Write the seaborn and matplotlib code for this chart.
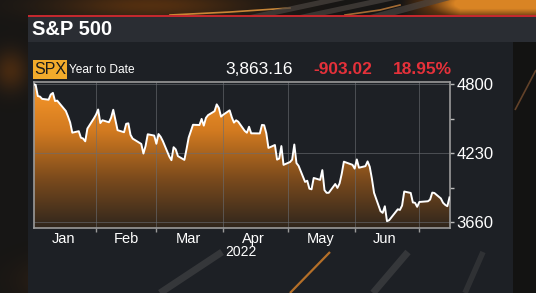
import numpy as np
import pandas as pd
import matplotlib
matplotlib.use("Agg")
import matplotlib.pyplot as plt
import matplotlib.dates as mdates
from matplotlib.colors import LinearSegmentedColormap
from matplotlib.patches import Rectangle, Polygon
import seaborn as sns

# ---------------- data ----------------
dates = ["2022-01-03","2022-01-04","2022-01-05","2022-01-06","2022-01-07","2022-01-10","2022-01-11","2022-01-12",
         "2022-01-13","2022-01-14","2022-01-18","2022-01-19","2022-01-20","2022-01-21","2022-01-24","2022-01-25",
         "2022-01-26","2022-01-27","2022-01-28","2022-01-31","2022-02-01","2022-02-02","2022-02-03","2022-02-04",
         "2022-02-07","2022-02-08","2022-02-09","2022-02-10","2022-02-11","2022-02-14","2022-02-15","2022-02-16",
         "2022-02-17","2022-02-18","2022-02-22","2022-02-23","2022-02-24","2022-02-25","2022-02-28","2022-03-01",
         "2022-03-02","2022-03-03","2022-03-04","2022-03-07","2022-03-08","2022-03-09","2022-03-10","2022-03-11",
         "2022-03-14","2022-03-15","2022-03-16","2022-03-17","2022-03-18","2022-03-21","2022-03-22","2022-03-23",
         "2022-03-24","2022-03-25","2022-03-28","2022-03-29","2022-03-30","2022-03-31","2022-04-01","2022-04-04",
         "2022-04-05","2022-04-06","2022-04-07","2022-04-08","2022-04-11","2022-04-12","2022-04-13","2022-04-14",
         "2022-04-18","2022-04-19","2022-04-20","2022-04-21","2022-04-22","2022-04-25","2022-04-26","2022-04-27",
         "2022-04-28","2022-04-29","2022-05-02","2022-05-03","2022-05-04","2022-05-05","2022-05-06","2022-05-09",
         "2022-05-10","2022-05-11","2022-05-12","2022-05-13","2022-05-16","2022-05-17","2022-05-18","2022-05-19",
         "2022-05-20","2022-05-23","2022-05-24","2022-05-25","2022-05-26","2022-05-27","2022-05-31","2022-06-01",
         "2022-06-02","2022-06-03","2022-06-06","2022-06-07","2022-06-08","2022-06-09","2022-06-10","2022-06-13",
         "2022-06-14","2022-06-15","2022-06-16","2022-06-17","2022-06-21","2022-06-22","2022-06-23","2022-06-24",
         "2022-06-27","2022-06-28","2022-06-29","2022-06-30","2022-07-01","2022-07-05","2022-07-06","2022-07-07",
         "2022-07-08","2022-07-11","2022-07-12","2022-07-13","2022-07-14","2022-07-15"]
closes = [4796.56,4793.54,4700.58,4696.05,4677.03,4670.29,4713.07,4726.35,
          4659.03,4662.85,4577.11,4532.76,4482.73,4397.94,4410.13,4356.45,
          4349.93,4326.51,4431.85,4515.55,4546.54,4589.38,4477.44,4500.53,
          4483.87,4521.54,4587.18,4504.08,4418.64,4401.67,4471.07,4475.01,
          4380.26,4348.87,4304.76,4225.50,4288.70,4384.65,4373.94,4306.26,
          4386.54,4363.49,4328.87,4201.09,4170.70,4277.88,4259.52,4204.31,
          4173.11,4262.45,4357.86,4411.67,4463.12,4461.18,4511.61,4456.24,
          4520.16,4543.06,4575.52,4631.60,4602.45,4530.41,4545.86,4582.64,
          4525.12,4481.15,4500.21,4488.28,4412.53,4397.45,4446.59,4392.59,
          4391.69,4462.21,4459.45,4393.66,4271.78,4296.12,4175.20,4183.96,
          4287.50,4131.93,4155.38,4175.48,4300.17,4146.87,4123.34,3991.24,
          4001.05,3935.18,3930.08,4023.89,4008.01,4088.85,3923.68,3900.79,
          3901.36,3973.75,3941.48,3978.73,4057.84,4158.24,4132.15,4101.23,
          4176.82,4108.54,4121.43,4160.68,4115.77,4017.82,3900.86,3749.63,
          3735.48,3789.99,3666.77,3674.84,3764.79,3759.89,3795.73,3911.74,
          3900.11,3821.55,3818.83,3785.38,3825.33,3831.39,3845.08,3902.62,
          3899.38,3854.43,3818.80,3801.78,3790.38,3863.16]

y_ticks = [3660, 4230, 4800]
month_labels = ["Jan", "Feb", "Mar", "Apr", "May", "Jun"]
year_label = "2022"
title = "S&P 500"
ticker = "SPX"
period = "Year to Date"
last_value = "3,863.16"
change = "-903.02"
change_pct = "18.95%"

df = pd.DataFrame({"date": pd.to_datetime(dates), "close": closes})

# ---------------- figure ----------------
W, H = 536, 293
fig = plt.figure(figsize=(W / 100, H / 100), dpi=100)
fig.patch.set_facecolor("#161616")

bg = fig.add_axes([0, 0, 1, 1])
bg.set_xlim(0, W)
bg.set_ylim(H, 0)
bg.axis("off")

# background glow image
yy, xx = np.mgrid[0:H, 0:W].astype(float)
glow = (np.clip((xx - 400) / 60.0, 0, 1) * np.exp(-(yy - 3) ** 2 / 250.0) * 1.1
        + np.exp(-((xx - 150) ** 2 / 9000.0 + (yy - 5) ** 2 / 200.0)) * 0.45
        + np.exp(-((xx - 10) ** 2 / 300.0 + (yy - 70) ** 2 / 400.0)) * 0.35
        + np.exp(-((xx - 90) ** 2 / 3000.0 + (yy - 280) ** 2 / 500.0)) * 0.35)
bgcmap = LinearSegmentedColormap.from_list("bgc", ["#171615", "#5a3210", "#d98424"])
bg.imshow(np.clip(glow, 0, 1), cmap=bgcmap, vmin=0, vmax=1, extent=[0, W, H, 0],
          aspect="auto", zorder=0)

# top streaks
bg.plot([170, 230, 290], [15, 12, 8], color="#f0a040", alpha=0.8, lw=1.2, zorder=1)
bg.plot([345, 380, 400], [15, 10, 5], color="#e09040", alpha=0.7, lw=1.2, zorder=1)
for xa, xb in [(250, 320), (300, 370), (370, 425)]:
    bg.add_patch(Polygon([[xa, 15], [xa + 25, 15], [xb + 25, 0], [xb, 0]], closed=True,
                         facecolor="#4a4440", alpha=0.7, edgecolor="none", zorder=1))

# main panel
bg.add_patch(Rectangle((28, 42), 485, 251, facecolor="#1d2025", edgecolor="none", zorder=2))
bg.add_patch(Rectangle((28, 16), W - 28, 26, facecolor="#2a2d33", edgecolor="none", zorder=3))
bg.add_patch(Rectangle((28, 14.5), W - 28, 2.2, facecolor="#c3282e", edgecolor="none", zorder=4))

# bottom streaks
for xa, ya, xb, yb, c, a, lw in [(160, 293, 222, 252, "#5a5a5a", 0.4, 5),
                                 (290, 293, 330, 252, "#e88a2a", 0.75, 1.6),
                                 (373, 293, 408, 252, "#5a5a5a", 0.4, 5),
                                 (465, 293, 483, 252, "#5a5a5a", 0.3, 4),
                                 (515, 110, 536, 70, "#b07040", 0.5, 1.2)]:
    bg.plot([xa, xb], [ya, yb], color=c, alpha=a, lw=lw, zorder=2.5, solid_capstyle="butt")
bg.add_patch(Rectangle((513, 42), 23, 251, facecolor="#111111", alpha=0.5, edgecolor="none", zorder=2.2))

bg.text(32.5, 29.5, title, color="white", fontsize=14.5, fontweight="bold",
        family="Liberation Sans", va="center", ha="left", zorder=5)

# SPX badge
bg.add_patch(Rectangle((33, 60), 33.5, 18.5, facecolor="#f2ab2b", edgecolor="none", zorder=5))
bg.text(49.8, 69.8, ticker, color="#1a1a1a", fontsize=11.5, family="Liberation Sans",
        va="center", ha="center", zorder=6)
bg.text(69, 70, period, color="white", fontsize=8.6, family="Liberation Sans",
        va="center", ha="left", zorder=6)
bg.text(293, 70, last_value, color="white", fontsize=12.5, family="Liberation Sans",
        va="center", ha="right", zorder=6)
bg.text(372, 70, change, color="#e5313a", fontsize=12.5, family="Liberation Sans", fontweight="bold",
        va="center", ha="right", zorder=6)
bg.text(452, 70, change_pct, color="#e5313a", fontsize=12.5, family="Liberation Sans", fontweight="bold",
        va="center", ha="right", zorder=6)

# ---------------- main chart ----------------
left, right, top, bottom = 33.5, 449.5, 82, 228
ax = fig.add_axes([left / W, 1 - bottom / H, (right - left) / W, (bottom - top) / H])
ax.set_facecolor("#1d2025")
ax.set_zorder(10)

px_per_unit = (222 - 84) / (4800 - 3660)
ymax = 4800 + (84 - top) / px_per_unit
ymin = 3660 - (bottom - 222) / px_per_unit
x0 = mdates.date2num(pd.Timestamp("2022-01-03"))
x1 = mdates.date2num(pd.Timestamp("2022-07-15"))
ax.set_xlim(x0, x1)
ax.set_ylim(ymin, ymax)

xn = mdates.date2num(df["date"])
poly = ax.fill_between(xn, df["close"], ymin, facecolor="none", edgecolor="none")
grad = np.linspace(0, 1, 256).reshape(-1, 1)
fillcmap = LinearSegmentedColormap.from_list("fillc", ["#30261d", "#7a4a1c", "#d27a20", "#fb9a2a"])
im = ax.imshow(grad, cmap=fillcmap, origin="lower", extent=[x0, x1, ymin, ymax],
               aspect="auto", zorder=1)
im.set_clip_path(poly.get_paths()[0], transform=ax.transData)

sns.lineplot(data=df, x="date", y="close", ax=ax, color="white", lw=1.4, zorder=3)

month_starts = [mdates.date2num(pd.Timestamp(f"2022-{m:02d}-01")) for m in range(2, 8)]
for m in month_starts:
    ax.axvline(m, color="#6a6d72", lw=0.6, alpha=0.7, zorder=2)
for t in y_ticks:
    ax.axhline(t, color="#6a6d72", lw=0.6, alpha=0.7, zorder=2)

ax.set_xticks(month_starts)
ax.set_xticklabels([])
ax.tick_params(axis="x", direction="out", length=3, width=1, color="#9a9a9a")
centers = [mdates.date2num(pd.Timestamp(s)) for s in
           ["2022-01-17", "2022-02-15", "2022-03-16", "2022-04-15", "2022-05-16", "2022-06-15"]]
ax.set_xticks(centers, minor=True)
ax.set_xticklabels(month_labels, minor=True)
ax.tick_params(axis="x", which="minor", length=0, pad=3, labelsize=10.5, labelcolor="white")
for lab in ax.get_xticklabels(minor=True):
    lab.set_family("Liberation Sans")

ax.yaxis.tick_right()
ax.set_yticks(y_ticks)
ax.set_yticklabels([str(t) for t in y_ticks])
ax.set_yticks([(3660 + 4230) / 2, (4230 + 4800) / 2], minor=True)
ax.tick_params(axis="y", which="both", direction="out", length=3, width=1, color="#bbbbbb",
               labelsize=12, labelcolor="white", pad=2)
for lab in ax.get_yticklabels():
    lab.set_family("Liberation Sans")

for s in ax.spines.values():
    s.set_color("#9a9a9a")
    s.set_linewidth(1.2)

ax.set_xlabel("")
ax.set_ylabel("")
bg.text(241, 252, year_label, color="white", fontsize=10, family="Liberation Sans",
        ha="center", va="center", zorder=6)

fig.savefig("out.png", dpi=100, facecolor=fig.get_facecolor())
